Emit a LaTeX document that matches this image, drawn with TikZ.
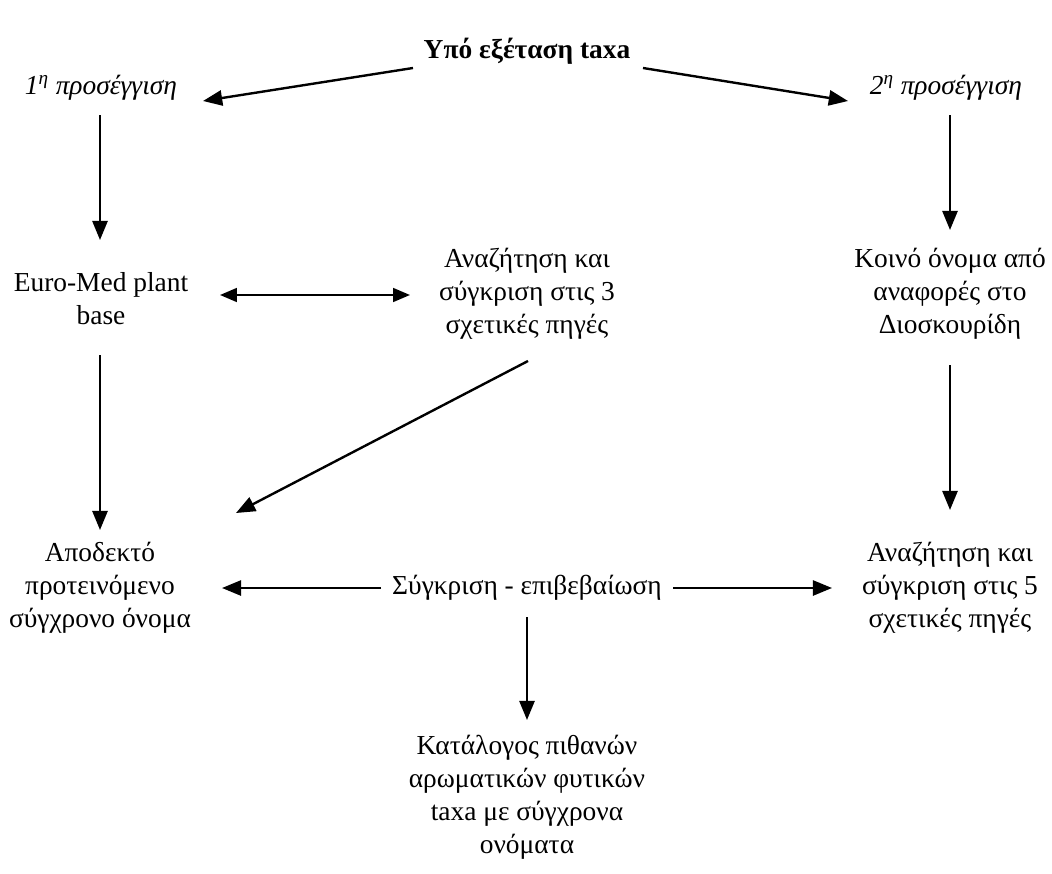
\documentclass[tikz,border=0pt]{standalone}
\usepackage{fontspec}
\setmainfont{Liberation Serif}
\usetikzlibrary{arrows.meta}
\tikzset{
  txt/.style = {align=center, font=\fontsize{19.5}{23.4}\selectfont, inner sep=2pt},
  arr/.style = {-{Triangle[length=4.8mm, width=3.8mm]}, line width=1.7pt},
  arr2/.style = {{Triangle[length=4.2mm, width=3.4mm]}-{Triangle[length=4.2mm, width=3.4mm]}, line width=1.7pt}
}

\begin{document}
\begin{tikzpicture}[x=0.025cm, y=-0.025cm]
  \useasboundingbox (0,0) rectangle (1052,874);
  % nodes
  \node [txt] (tx) at (527,51) {\textbf{Υπό εξέταση taxa}};
  \node [txt] (p1) at (101,88) {\textit{1\textsuperscript{η} προσέγγιση}};
  \node [txt] (p2) at (946,88) {\textit{2\textsuperscript{η} προσέγγιση}};
  \node [txt] (emp) at (101,299) {Euro-Med plant\\base};
  \node [txt] (an3) at (527,294) {Αναζήτηση και\\σύγκριση στις 3\\σχετικές πηγές};
  \node [txt] (koi) at (950,294) {Κοινό όνομα από\\αναφορές στο\\Διοσκουρίδη};
  \node [txt] (apo) at (100,588) {Αποδεκτό\\προτεινόμενο\\σύγχρονο όνομα};
  \node [txt] (syg) at (527,588) {Σύγκριση - επιβεβαίωση};
  \node [txt] (an5) at (950,588) {Αναζήτηση και\\σύγκριση στις 5\\σχετικές πηγές};
  \node [txt] (kat) at (527,797) {Κατάλογος πιθανών\\αρωματικών φυτικών\\taxa με σύγχρονα\\ονόματα};
  % connectors
  \draw [arr] ([shift={(-114,17)}]tx.center) -- ([shift={(102,13)}]p1.center);
  \draw [arr] ([shift={(116,17)}]tx.center) -- ([shift={(-98,13)}]p2.center);
  \draw [arr] ([shift={(-1,27)}]p1.center) -- ([shift={(-1,-59)}]emp.center);
  \draw [arr] ([shift={(4,27)}]p2.center) -- ([shift={(0,-64)}]koi.center);
  \draw [arr2] ([shift={(119,-4)}]emp.center) -- ([shift={(-117,1)}]an3.center);
  \draw [arr] ([shift={(-1,56)}]emp.center) -- ([shift={(0,-58)}]apo.center);
  \draw [arr] ([shift={(1,67)}]an3.center) -- ([shift={(136,-75)}]apo.center);
  \draw [arr] ([shift={(0,71)}]koi.center) -- ([shift={(0,-78)}]an5.center);
  \draw [arr] ([shift={(-146,0)}]syg.center) -- ([shift={(122,0)}]apo.center);
  \draw [arr] ([shift={(146,0)}]syg.center) -- ([shift={(-118,0)}]an5.center);
  \draw [arr] ([shift={(0,29)}]syg.center) -- ([shift={(0,-77)}]kat.center);
\end{tikzpicture}
\end{document}
